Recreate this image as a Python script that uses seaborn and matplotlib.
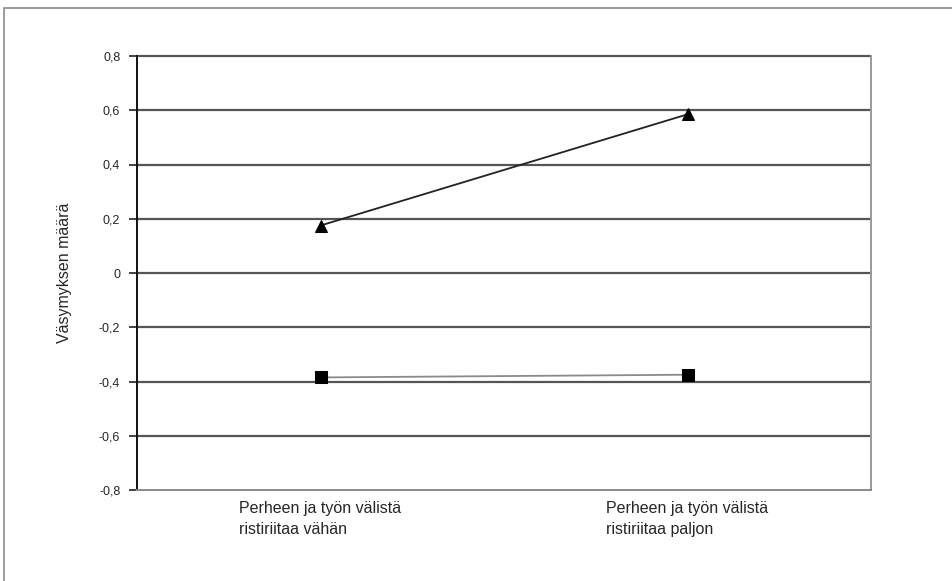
import matplotlib
matplotlib.use("Agg")
import matplotlib.pyplot as plt
import seaborn as sns
import pandas as pd
from matplotlib.patches import Rectangle

categories = ["Perheen ja työn välistä\nristiriitaa vähän",
              "Perheen ja työn välistä\nristiriitaa paljon"]
series_names = ["A", "B"]
values_a = [0.175, 0.585]
values_b = [-0.385, -0.375]
y_ticks = [-0.8, -0.6, -0.4, -0.2, 0.0, 0.2, 0.4, 0.6, 0.8]
y_tick_labels = ["-0,8", "-0,6", "-0,4", "-0,2", "0", "0,2", "0,4", "0,6", "0,8"]

df = pd.DataFrame({
    "pos": [0, 1, 0, 1],
    "value": values_a + values_b,
    "series": [series_names[0]] * 2 + [series_names[1]] * 2,
})

sns.set_theme(style="white")
plt.rcParams["font.family"] = ["Liberation Sans", "DejaVu Sans"]

fig = plt.figure(figsize=(9.52, 5.81), dpi=100)
ax = fig.add_axes([137 / 952, 1 - 490 / 581, (871 - 137) / 952, (490 - 56) / 581])

# outer frame of the chart area
fig.patches.append(Rectangle((4 / 952, -0.1), 1.2, 1 - 8 / 581 + 0.1,
                             transform=fig.transFigure, fill=False,
                             edgecolor="#8c8c8c", linewidth=1.2))

for t in y_ticks[1:]:
    ax.axhline(t, color="#555555", linewidth=1.6, zorder=1, clip_on=False)

sns.lineplot(data=df, x="pos", y="value", hue="series", style="series",
             palette={"A": "#222222", "B": "#8a8a8a"},
             markers={"A": "^", "B": "s"}, dashes=False,
             markersize=9, linewidth=1.3, legend=False, ax=ax, zorder=3)
for line in ax.get_lines():
    if line.get_marker() in ("^", "s"):
        line.set_markerfacecolor("black")
        line.set_markeredgecolor("black")

ax.set_xlim(-0.5, 1.5)
ax.set_ylim(-0.8, 0.8)
ax.set_yticks(y_ticks)
ax.set_yticklabels(y_tick_labels, fontsize=9)
ax.set_xticks([0, 1])
ax.set_xticklabels(categories, fontsize=11.5, multialignment="left", linespacing=1.5)
ax.tick_params(axis="x", length=0, pad=8)
ax.tick_params(axis="y", length=6, width=1.2, color="#222222", direction="out", pad=6,
               left=True)
ax.set_xlabel("")
ax.set_ylabel("Väsymyksen määrä", fontsize=11.5)
ax.yaxis.set_label_coords(-0.088, 0.5)

ax.spines["top"].set_visible(False)
ax.spines["left"].set_color("#111111")
ax.spines["left"].set_linewidth(1.4)
ax.spines["right"].set_color("#9a9a9a")
ax.spines["right"].set_linewidth(1.4)
ax.spines["bottom"].set_color("#8a8a8a")
ax.spines["bottom"].set_linewidth(1.4)

fig.savefig("out.png", dpi=100, facecolor="white")
